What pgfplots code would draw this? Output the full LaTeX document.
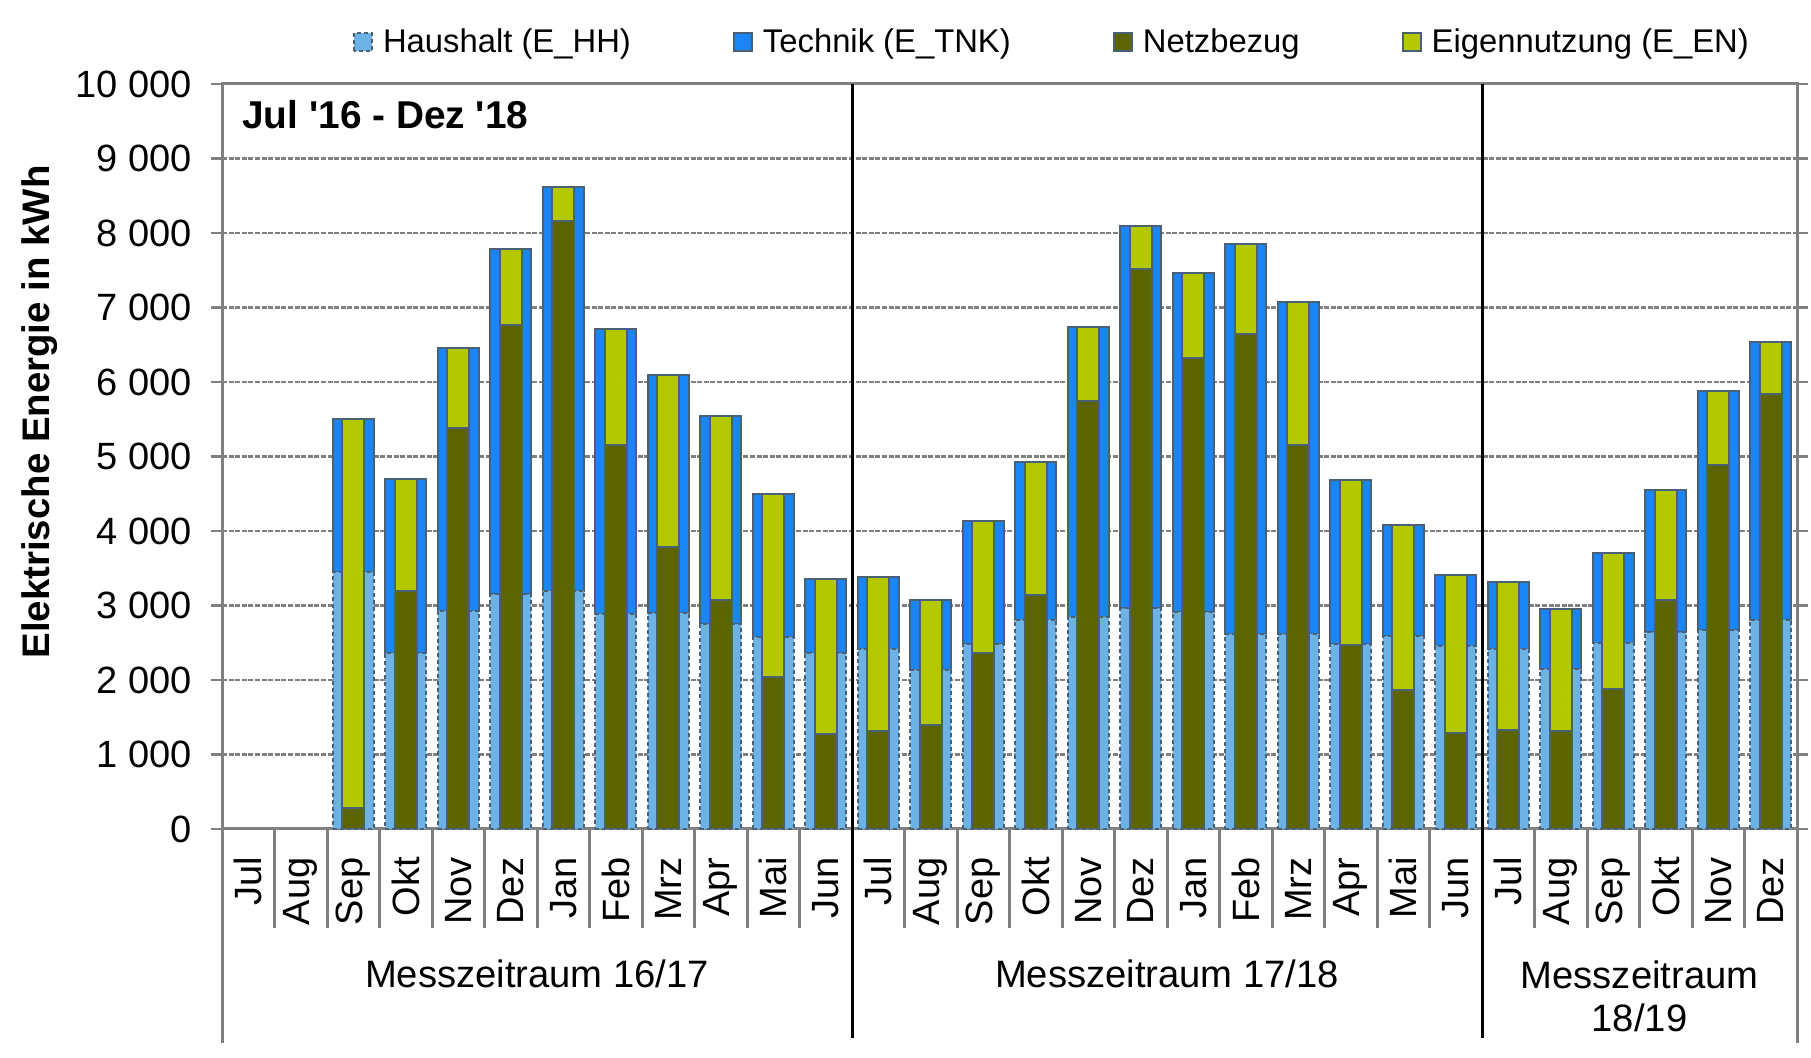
\documentclass[border=0pt]{standalone}
\usepackage{fontspec}
\setmainfont{Liberation Sans}
\usepackage{pgfplots}
\pgfplotsset{compat=1.18}
\usepackage{pgfplotstable}

\definecolor{hhcol}{RGB}{108,178,228}
\definecolor{tnkcol}{RGB}{26,134,245}
\definecolor{netzcol}{RGB}{92,100,0}
\definecolor{encol}{RGB}{180,200,0}
\definecolor{edgecol}{RGB}{74,96,116}
\definecolor{gridcol}{RGB}{128,128,128}

% x: month index (0 = Jul 2016), hh = Haushalt, tnk = Technik, netz = Netzbezug, en = Eigennutzung (kWh)
\pgfplotstableread{
x  hh   tnk  netz en
2  3450 2050 280  5220
3  2360 2340 3190 1510
4  2930 3520 5380 1070
5  3150 4640 6770 1020
6  3200 5420 8160 460
7  2890 3820 5150 1560
8  2900 3190 3790 2300
9  2750 2790 3080 2460
10 2580 1920 2040 2460
11 2360 990  1270 2080
12 2420 960  1310 2070
13 2140 940  1390 1690
14 2480 1660 2360 1780
15 2810 2120 3140 1790
16 2850 3890 5750 990
17 2960 5130 7520 570
18 2910 4550 6320 1140
19 2620 5230 6650 1200
20 2620 4460 5160 1920
21 2480 2210 2470 2220
22 2590 1490 1870 2210
23 2460 950  1290 2120
24 2420 890  1330 1980
25 2150 800  1320 1630
26 2500 1210 1880 1830
27 2640 1910 3070 1480
28 2670 3210 4890 990
29 2810 3730 5840 700
}\datatab

\pgfplotsset{
  sqlegend/.style={legend image code/.code={\draw[##1,line width=1pt] (0pt,-4.5pt) rectangle (9pt,4.5pt);}},
}

\begin{document}
\begin{tikzpicture}
\path[use as bounding box] (0,0) rectangle (905.5pt,529pt);

\begin{axis}[
  at={(111pt,114.5pt)}, anchor=south west, scale only axis,
  width=787.5pt, height=372.5pt,
  xmin=-0.5, xmax=29.5, ymin=0, ymax=10000,
  ybar stacked, bar width=20.5pt,
  clip=false,
  xtick={0,...,29},
  xticklabels={Jul,Aug,Sep,Okt,Nov,Dez,Jan,Feb,Mrz,Apr,Mai,Jun,Jul,Aug,Sep,Okt,Nov,Dez,Jan,Feb,Mrz,Apr,Mai,Jun,Jul,Aug,Sep,Okt,Nov,Dez},
  xticklabel style={yshift=-8.5pt, rotate=90, anchor=east, inner sep=0pt},
  x tick style={draw=none},
  ytick={0,1000,...,10000},
  yticklabels={0,1 000,2 000,3 000,4 000,5 000,6 000,7 000,8 000,9 000,10 000},
  scaled y ticks=false,
  yticklabel style={inner sep=0pt, xshift=-9.5pt},
  tick label style={font=\fontsize{19}{19}\selectfont},
  ymajorgrids,
  grid style={gridcol, line width=1.2pt, dash pattern=on 2.5pt off 0.8pt},
  axis line style={gridcol, line width=1.5pt},
  tick align=outside, major tick length=5.5pt,
  y tick style={gridcol, line width=1.2pt},
  legend columns=4,
  legend style={draw=none, fill=none, at={(0.0832,1.0564)}, anchor=west,
    inner sep=0pt, outer sep=0pt, nodes={inner sep=0pt},
    font=\fontsize{16.4}{16.4}\selectfont,
    /tikz/every odd column/.append style={column sep=5pt},
    /tikz/every even column/.append style={column sep=51pt}},
]
\addplot[sqlegend, fill=hhcol, draw=edgecol, line width=1pt, dash pattern=on 2pt off 1.5pt] table[x=x,y=hh]{\datatab};
\addlegendentry{Haushalt (E\_HH)}
\addplot[sqlegend, fill=tnkcol, draw=edgecol, line width=1pt] table[x=x,y=tnk]{\datatab};
\addlegendentry{Technik (E\_TNK)}
\addlegendimage{sqlegend, fill=netzcol, draw=edgecol}
\addlegendentry{Netzbezug}
\addlegendimage{sqlegend, fill=encol, draw=edgecol}
\addlegendentry{Eigennutzung (E\_EN)}

\pgfplotsinvokeforeach{0.5,1.5,2.5,3.5,4.5,5.5,6.5,7.5,8.5,9.5,10.5,12.5,13.5,14.5,15.5,16.5,17.5,18.5,19.5,20.5,21.5,22.5,24.5,25.5,26.5,27.5,28.5}{
  \draw[gridcol, line width=1.5pt] (axis cs:#1,0) -- ++(0pt,-49.5pt);
}
\draw[gridcol, line width=1.5pt] (axis cs:-0.5,0) -- ++(0pt,-107pt);
\draw[gridcol, line width=1.5pt] (axis cs:29.5,0) -- ++(0pt,-107pt);
\draw[black, line width=1.5pt] (axis cs:11.5,10000) -- ([yshift=-104.5pt]axis cs:11.5,0);
\draw[black, line width=1.5pt] (axis cs:23.5,10000) -- ([yshift=-104.5pt]axis cs:23.5,0);
\end{axis}

\begin{axis}[
  at={(111pt,114.5pt)}, anchor=south west, scale only axis,
  width=787.5pt, height=372.5pt,
  xmin=-0.5, xmax=29.5, ymin=0, ymax=10000,
  hide axis,
  ybar stacked, bar width=11pt,
]
\addplot[fill=netzcol, draw=edgecol, line width=1pt] table[x=x,y=netz]{\datatab};
\addplot[fill=encol, draw=edgecol, line width=1pt] table[x=x,y=en]{\datatab};
\end{axis}

\node[anchor=west, inner sep=0pt, font=\bfseries\fontsize{19.4}{19.4}\selectfont] at (121pt,471.5pt) {Jul \textquotesingle16 - Dez \textquotesingle18};
\node[rotate=90, inner sep=0pt, font=\bfseries\fontsize{19.2}{19.2}\selectfont] at (20pt,323pt) {Elektrische Energie in kWh};
\node[inner sep=0pt, font=\fontsize{19.1}{19.1}\selectfont] at (268.5pt,42pt) {Messzeitraum 16/17};
\node[inner sep=0pt, font=\fontsize{19.1}{19.1}\selectfont] at (583.5pt,42pt) {Messzeitraum 17/18};
\node[inner sep=0pt, font=\fontsize{19.1}{19.1}\selectfont] at (819.75pt,41.5pt) {Messzeitraum};
\node[inner sep=0pt, font=\fontsize{19.1}{19.1}\selectfont] at (819.75pt,20pt) {18/19};
\end{tikzpicture}
\end{document}
